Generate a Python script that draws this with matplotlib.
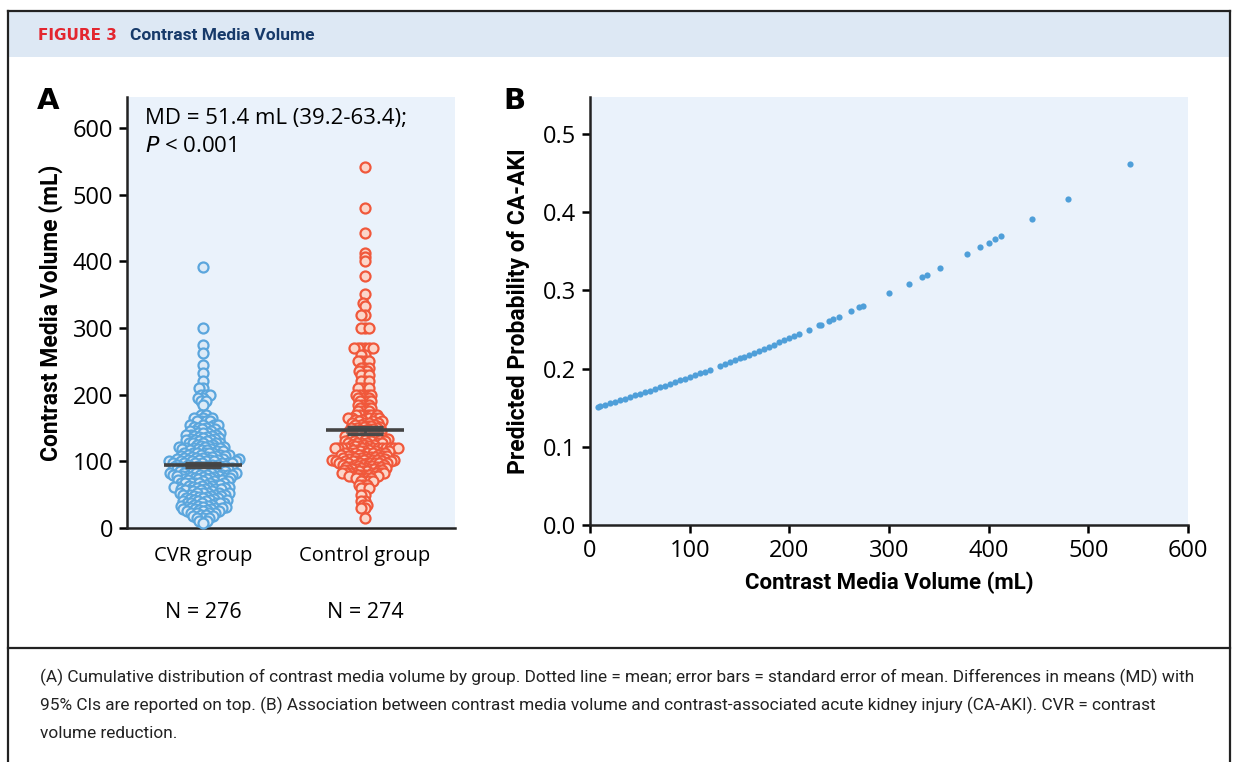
import numpy as np
import matplotlib.pyplot as plt
from matplotlib.patches import Rectangle
from matplotlib.lines import Line2D

# Panel A: contrast media volume (mL) with number of patients at each value
cvr_volume = [391, 300, 274, 262, 244, 232, 220, 210, 200, 195, 190, 185, 170, 165, 160, 155,
              152, 150, 148, 146, 143, 142, 140, 138, 137, 135, 133, 132, 130, 128,
              127, 125, 123, 122, 120, 118, 117, 115, 113, 112, 110, 108, 107, 105, 103,
              102, 100, 98, 97, 95, 93, 92, 90, 88, 87, 85, 83, 82, 80, 78,
              77, 75, 73, 72, 70, 68, 67, 65, 63, 62, 60, 58, 57, 55, 53,
              52, 50, 48, 47, 45, 43, 42, 40, 38, 37, 35, 33, 32, 30, 28,
              27, 25, 23, 22, 20, 18, 15, 10, 8]
cvr_count = [1, 1, 1, 1, 1, 1, 1, 2, 3, 2, 2, 1, 2, 3, 4, 4,
             2, 2, 2, 3, 2, 2, 3, 2, 2, 2, 2, 3, 2, 3,
             2, 2, 2, 3, 4, 3, 3, 2, 3, 3, 4, 3, 3, 3, 3,
             4, 6, 4, 3, 4, 3, 4, 4, 4, 3, 4, 3, 4, 6, 4,
             3, 4, 3, 4, 3, 4, 3, 3, 3, 4, 3, 4, 3, 2, 3,
             3, 4, 3, 2, 3, 2, 3, 3, 3, 3, 2, 3, 3, 3, 3,
             2, 3, 2, 2, 2, 2, 3, 2, 1]

ctl_volume = [542, 480, 443, 412, 406, 400, 378, 351, 338, 333, 320, 300, 270, 260, 250,
              240, 235, 230, 220, 210, 200, 195, 190, 185, 180, 175, 170, 165,
              162, 160, 158, 157, 155, 153, 152, 150, 148, 147, 145, 143,
              142, 140, 138, 137, 135, 133, 132, 130, 128, 127, 125, 123, 120,
              117, 115, 113, 112, 110, 108, 107, 105, 103, 102, 100, 98,
              97, 95, 93, 92, 90, 88, 87, 85, 83, 82, 80, 78,
              75, 70, 65, 60, 50, 40, 35, 30, 15]
ctl_count = [1, 1, 1, 1, 1, 1, 1, 1, 1, 1, 2, 3, 6, 2, 4,
             3, 3, 3, 3, 4, 5, 4, 4, 4, 4, 4, 6, 6,
             2, 3, 2, 2, 3, 2, 2, 3, 2, 2, 3, 2,
             3, 2, 3, 3, 3, 3, 3, 4, 3, 3, 3, 3, 14,
             3, 4, 3, 4, 4, 4, 3, 4, 3, 5, 6, 5,
             3, 4, 3, 4, 3, 4, 4, 3, 4, 4, 4, 4,
             5, 4, 3, 3, 2, 2, 2, 2, 1]

group_names = ["CVR group", "Control group"]
group_n = ["N = 276", "N = 274"]

# Panel B: predicted probability of CA-AKI against contrast volume
b_volume = [8, 10, 15, 20, 25, 30, 35, 40, 45, 50, 55, 60, 65, 70, 75, 80, 85, 90, 95,
            100, 105, 110, 115, 120, 130, 135, 140, 145, 150, 155, 160, 165, 170, 175,
            180, 185, 190, 195, 200, 205, 210, 220, 230, 232, 240, 244, 250, 262, 270,
            274, 300, 320, 333, 338, 351, 378, 391, 400, 406, 412, 443, 480, 542]
b_prob = [0.151, 0.1518, 0.1537, 0.1556, 0.1576, 0.1596, 0.1615, 0.1635, 0.1656, 0.1676,
          0.1697, 0.1718, 0.1739, 0.176, 0.1782, 0.1803, 0.1825, 0.1847, 0.1869,
          0.1892, 0.1915, 0.1938, 0.1961, 0.1984, 0.2031, 0.2055, 0.208, 0.2104, 0.2128,
          0.2153, 0.2178, 0.2203, 0.2229, 0.2255, 0.228, 0.2306, 0.2333, 0.2359, 0.2386,
          0.2413, 0.244, 0.2495, 0.255, 0.2561, 0.2607, 0.2629, 0.2664, 0.2734, 0.2781,
          0.2804, 0.2961, 0.3086, 0.3168, 0.32, 0.3284, 0.3462, 0.3549, 0.361, 0.3651,
          0.3692, 0.3907, 0.417, 0.462]

W, H = 1236, 762
fig = plt.figure(figsize=(W / 100, H / 100), dpi=100)
fig.patch.set_facecolor("white")

def fx(x):
    return x / W

def fy(y):
    return 1 - y / H

BG = "#eaf2fb"
COND = ["Roboto", "DejaVu Sans"]
REG = ["Open Sans", "DejaVu Sans"]

# frame, header band and caption separator
fig.patches.append(Rectangle((fx(8), fy(57)), fx(1222), 46 / H, transform=fig.transFigure,
                             facecolor="#dde8f4", edgecolor="none", zorder=0))
for xs_, ys_ in [([8, 8], [11, 762]), ([1230, 1230], [11, 762]), ([8, 1230], [11, 11]),
                 ([8, 1230], [648, 648])]:
    fig.lines.append(Line2D([fx(v) for v in xs_], [fy(v) for v in ys_], transform=fig.transFigure,
                            color="#222222", lw=1.6))

fig.text(fx(38), fy(36), "FIGURE 3", color="#e3262f", fontsize=11, fontweight="bold",
         family=["DejaVu Sans"], va="center")
fig.text(fx(130), fy(36), "Contrast Media Volume", color="#173a6a", fontsize=12.5,
         fontweight="bold", family=COND, va="center")

# ---------------- panel A ----------------
axA = fig.add_axes([fx(127), fy(528), 328 / W, 431 / H])
axA.set_facecolor(BG)
axA.set_xlim(-0.47, 1.555)
axA.set_ylim(0, 646.5)
for s in ["top", "right"]:
    axA.spines[s].set_visible(False)
for s in ["left", "bottom"]:
    axA.spines[s].set_linewidth(1.8)
    axA.spines[s].set_color("#222222")
axA.set_yticks([0, 100, 200, 300, 400, 500, 600])
axA.tick_params(axis="y", length=6, width=1.8, labelsize=17, pad=4)
axA.set_xticks([0, 1])
axA.set_xticklabels(group_names, fontsize=14.5, family=REG)
axA.tick_params(axis="x", length=0, pad=13)
for lab in axA.get_yticklabels():
    lab.set_family(REG)
axA.set_ylabel("Contrast Media Volume (mL)", fontsize=16.5, fontweight="bold", family=COND, labelpad=7)

px_per_y = axA.bbox.height / 646.5
px_per_x = axA.bbox.width / (1.555 + 0.47)


def swarm(y_px, d):
    xs = np.zeros(len(y_px))
    px_list, py_list = [], []
    for i in np.argsort(y_px, kind="stable"):
        y = y_px[i]
        iv = []
        for a, b in zip(px_list, py_list):
            dy = abs(b - y)
            if dy < d:
                w = np.sqrt(d * d - dy * dy)
                iv.append((a - w, a + w))
        cands = [0.0] + [lo for lo, hi in iv] + [hi for lo, hi in iv]
        cands.sort(key=lambda c: (abs(c), c))
        for c in cands:
            if all(not (lo + 1e-6 < c < hi - 1e-6) for lo, hi in iv):
                xs[i] = c
                break
        px_list.append(xs[i])
        py_list.append(y)
    return xs


groups = [(cvr_volume, cvr_count, "#5ba6dd", "#dceaf7", 4.1),
          (ctl_volume, ctl_count, "#f0583b", "#fbd6ca", 3.8)]
for gi, (vol, cnt, edge, face, dd) in enumerate(groups):
    vals = np.repeat(np.array(vol, dtype=float), cnt)
    offs = swarm(vals * px_per_y, dd) / px_per_x
    axA.scatter(gi + offs, vals, s=52, facecolor=face, edgecolor=edge, linewidths=1.6,
                zorder=3, clip_on=False)
    m = vals.mean()
    se = vals.std(ddof=1) / np.sqrt(len(vals))
    axA.add_patch(Rectangle((gi - 0.115, m - se), 0.23, 2 * se, facecolor="#6a6a6a", alpha=0.65,
                            edgecolor="none", zorder=4))
    axA.errorbar(gi, m, yerr=se, fmt="none", ecolor="#4a4a4a", elinewidth=2, capsize=13,
                 capthick=2.4, zorder=5)
    axA.hlines(m, gi - 0.24, gi + 0.24, color="#444444", lw=2.6, zorder=5)
    axA.text(gi, -0.195, group_n[gi], transform=axA.get_xaxis_transform(), ha="center", va="center",
             fontsize=15.5, family=REG)

axA.text(0.055, 0.975, "MD = 51.4 mL (39.2-63.4);", transform=axA.transAxes, fontsize=16,
         family=REG, va="top")
axA.text(0.055, 0.91, "$\\it{P}$ < 0.001", transform=axA.transAxes, fontsize=16, family=REG,
         va="top")
fig.text(fx(37), fy(101), "A", fontsize=21, fontweight="bold", family=["DejaVu Sans"], va="center")

# ---------------- panel B ----------------
axB = fig.add_axes([fx(590), fy(525), 598 / W, 428 / H])
axB.set_facecolor(BG)
axB.set_xlim(0, 600)
axB.set_ylim(0, 0.547)
for s in ["top", "right"]:
    axB.spines[s].set_visible(False)
for s in ["left", "bottom"]:
    axB.spines[s].set_linewidth(1.8)
    axB.spines[s].set_color("#222222")
axB.set_xticks(range(0, 601, 100))
axB.set_yticks([0, 0.1, 0.2, 0.3, 0.4, 0.5])
axB.set_yticklabels(["0.0", "0.1", "0.2", "0.3", "0.4", "0.5"])
axB.tick_params(length=6, width=1.8, labelsize=17, pad=4)
for lab in axB.get_xticklabels() + axB.get_yticklabels():
    lab.set_family(REG)
axB.scatter(b_volume, b_prob, s=20, color="#4f9fd9", linewidths=0, zorder=3)
axB.set_xlabel("Contrast Media Volume (mL)", fontsize=16, fontweight="bold", family=COND, labelpad=6)
axB.set_ylabel("Predicted Probability of CA-AKI", fontsize=16.5, fontweight="bold", family=COND,
               labelpad=9)
fig.text(fx(503), fy(101), "B", fontsize=21, fontweight="bold", family=["DejaVu Sans"], va="center")

# ---------------- caption ----------------
caption = ["(A) Cumulative distribution of contrast media volume by group. Dotted line = mean; error bars = "
           "standard error of mean. Differences in means (MD) with",
           "95% CIs are reported on top. (B) Association between contrast media volume and "
           "contrast-associated acute kidney injury (CA-AKI). CVR = contrast",
           "volume reduction."]
for k, line in enumerate(caption):
    fig.text(fx(40), fy(677 + 28 * k), line, fontsize=12.45, family=COND, va="center", color="#222222")

fig.savefig("out.png", dpi=100)
